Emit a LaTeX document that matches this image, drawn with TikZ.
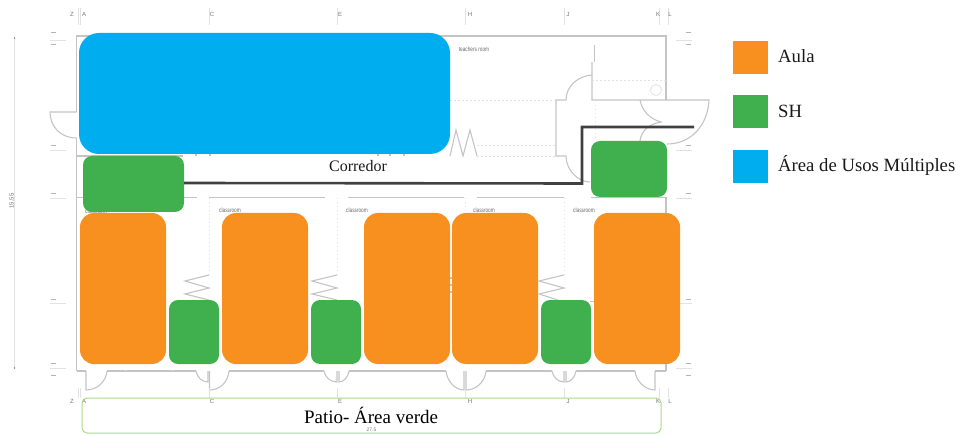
\documentclass[tikz,border=0pt]{standalone}
\usepackage{fontspec}
\setmainfont{Liberation Serif}
\newfontfamily\planfont{Liberation Sans}
\definecolor{aulac}{HTML}{F7901E}
\definecolor{shc}{HTML}{40AF4D}
\definecolor{sumc}{HTML}{00AEEF}
\definecolor{wallc}{HTML}{C4C4C4}
\definecolor{thinc}{HTML}{E2E2E2}
\definecolor{patioc}{HTML}{A9D88A}
\definecolor{pathc}{HTML}{404040}
\tikzset{
  wall/.style={draw=wallc,line width=1.1pt},
  thick wall/.style={draw=wallc,line width=1.4pt},
  dotline/.style={draw=thinc,line width=0.7pt,dash pattern=on 1.5pt off 2.5pt},
  axisline/.style={draw=thinc,line width=0.6pt},
  block/.style={inner sep=0pt,outer sep=0pt,draw=none,rounded corners=#1},
  aula/.style={block=14pt,fill=aulac,minimum width=86pt,minimum height=151pt},
  sh/.style={block=9pt,fill=shc},
  sum/.style={block=20pt,fill=sumc},
  swatch/.style={inner sep=0pt,outer sep=0pt,minimum width=35pt,minimum height=33pt},
  legendtext/.style={font=\fontsize{18.7}{20}\selectfont,anchor=west,inner sep=0pt,text=black!90},
  plantext/.style={font=\planfont\fontsize{6}{6.5}\selectfont,text=black!55,inner sep=0pt},
  roomtext/.style={font=\planfont\fontsize{6.3}{7}\selectfont,text=black!60,inner sep=0pt,xscale=0.75},
  corridor/.style={draw=pathc,line width=2.6pt,line join=miter}
}
\begin{document}
\begin{tikzpicture}[x=1pt,y=-1pt]
\useasboundingbox (0,0) rectangle (957,435);
% --- floor plan background
\draw[thick wall] (76.5,112) -- (76.5,36) -- (666,36) -- (666,100);
\draw[thick wall] (76.5,138) -- (76.5,371);
\draw[wall] (76.5,112) -- (50,112) .. controls (50,126) and (60,138) .. (76.5,138);
\draw[wall] (76.5,156) -- (183,156);
\draw[wall] (76.5,197.5) -- (197,197.5) (209,197.5) -- (325,197.5) (348,197.5) -- (464,197.5) (477,197.5) -- (564,197.5) (591,197.5) -- (666,197.5);
% bottom wall and doors
\draw[thick wall] (666,197) -- (666,371);
\draw[thick wall] (76.5,371) -- (86,371) (107,371) -- (196,371) (229,371) -- (324,371) (349,371) -- (446,371) (486,371) -- (552,371) (576,371) -- (635,371) (655,371) -- (666,371);
\draw[wall] (86,371) -- (86,390) .. controls (97,390) and (106,382) .. (107,371);
\draw[wall] (196,371) .. controls (197,377) and (202,382) .. (208,382) -- (208,371);
\draw[wall] (209.5,371) -- (209.5,390) .. controls (220,390) and (228,382) .. (229,371);
\draw[wall] (324,371) .. controls (325,377) and (330,382) .. (337,382) -- (337,371);
\draw[wall] (339,371) -- (339,382) .. controls (344,382) and (348,377) .. (349,371);
\draw[wall] (446,371) .. controls (447,381) and (455,390) .. (464,390) -- (464,371);
\draw[wall] (466,371) -- (466,390) .. controls (476,390) and (485,382) .. (486,371);
\draw[wall] (552,371) .. controls (553,377) and (558,382) .. (564,382) -- (564,371);
\draw[wall] (566,371) -- (566,382) .. controls (571,382) and (575,377) .. (576,371);
\draw[wall] (635,371) .. controls (636,381) and (645,390) .. (655,390) -- (655,371);
% zigzags
\draw[wall] (209,275) -- (185,281) -- (209,288) -- (185,294) -- (209,300);
\draw[wall] (337,275) -- (312,281) -- (337,288) -- (312,294) -- (337,300);
\draw[wall] (564,275) -- (539,281) -- (564,288) -- (539,294) -- (558,300);
\draw[wall] (450,278) -- (452,278) (450,285) -- (452,285) (450,292) -- (452,292);
\draw[wall] (450,156) -- (456,130) -- (463,156) -- (470,130) -- (477,156);
\draw[wall] (590,301.5) -- (594,301.5);
\draw[wall] (196,150) -- (196,156) (210,150) -- (210,156) (378,150) -- (378,156) (390,150) -- (390,156) (404,150) -- (404,156);
% upper right rooms and doors
\draw[wall] (594.5,45) -- (594.5,62);
\draw[wall] (592,62) -- (592,100) -- (709,100) .. controls (708,124) and (692,144) .. (667,144);
\draw[wall] (592,75) .. controls (578,76) and (566,86) .. (566,100) -- (556,100) -- (556,156) -- (566,156) .. controls (566,170) and (578,182) .. (590,182);
\draw[wall] (640,100) .. controls (642,111) and (650,119) .. (661,122) .. controls (649,124) and (641,131) .. (640,141);
\draw[dotline] (450,100) -- (556,100) (477,156) -- (556,156) (477,145) -- (556,145) (595,105) -- (595,141) (592,80) -- (666,80);
\draw[draw=thinc,line width=0.8pt] (656,90) circle (5.5);
% grid lines inside the classrooms
\draw[dotline] (209,198) -- (209,275) (337,198) -- (337,275) (465,198) -- (465,275) (564,198) -- (564,275) (125,371) -- (125,368) (172,371) -- (172,368);
% axes
\draw[axisline] (78,8) -- (78,25) (80,8) -- (80,25) (209,8) -- (209,25) (337,8) -- (337,25) (465,8) -- (465,25) (564,8) -- (564,25) (659,8) -- (659,25) (668,8) -- (668,25);
\draw[axisline] (78,388) -- (78,398) (80,388) -- (80,398) (209,388) -- (209,398) (337,388) -- (337,398) (465,388) -- (465,398) (564,388) -- (564,398) (659,388) -- (659,398) (668,388) -- (668,398);
\draw[axisline] (14.5,38) -- (14.5,368);
\draw[axisline] (50,40) -- (66,40) (50,150) -- (66,150) (50,198) -- (66,198) (50,303) -- (66,303) (50,368) -- (66,368) (676,40) -- (692,40) (676,150) -- (692,150) (676,198) -- (692,198) (676,303) -- (692,303) (676,368) -- (692,368);
\fill[black!50] (14.5,38) circle (0.9) (14.5,368) circle (0.9);
\foreach \yy in {33,45,146,194,299,363,375} {
  \draw[black!30,line width=1pt] (51,\yy) -- (56,\yy);
  \draw[black!30,line width=1pt] (686,\yy) -- (691,\yy);
}
\node[plantext,rotate=90] (dim) at (12,201) {15,55};
\foreach \nm/\xx in {Z/72,A/84,C/212,E/340,H/470,J/568,K/658,L/670} {
  \node[plantext] (top\nm) at (\xx,14) {\nm};
  \node[plantext] (bot\nm) at (\xx,401.5) {\nm};
}
\node[roomtext] (room0) at (96,211) {classroom};
\node[roomtext] (room1) at (230,210) {classroom};
\node[roomtext] (room2) at (357,210) {classroom};
\node[roomtext] (room3) at (484,210) {classroom};
\node[roomtext] (room4) at (584,210) {classroom};
\node[roomtext] (teachers) at (474,49) {teachers room};
% --- patio
\node[draw=patioc,line width=1pt,rounded corners=5pt,minimum width=579pt,minimum height=35pt,inner sep=0pt] (patio) at (371.5,415.5) {};
\node[font=\planfont\fontsize{5}{5}\selectfont,text=black!55,inner sep=0pt] (width) at (371.5,429.5) {27.5};
\node[font=\fontsize{19}{19}\selectfont,inner sep=0pt] (patiolabel) at (371,415) {Patio- Área verde};
% --- coloured blocks
\node[sum,minimum width=371pt,minimum height=121pt] (usos) at (264.5,93.5) {};
\node[sh,minimum width=101pt,minimum height=56pt] (shA) at (133.5,184) {};
\node[sh,minimum width=76pt,minimum height=56pt] (shB) at (629,169) {};
\node[aula] (a1) at (123,288.5) {};
\node[aula] (a2) at (265,288.5) {};
\node[aula] (a3) at (407,288.5) {};
\node[aula] (a4) at (495,288.5) {};
\node[aula] (a5) at (637,288.5) {};
\node[sh,minimum width=50pt,minimum height=64pt] (s1) at (194,332) {};
\node[sh,minimum width=50pt,minimum height=64pt] (s2) at (336,332) {};
\node[sh,minimum width=50pt,minimum height=64pt] (s3) at (566,332) {};
% --- corridor
\coordinate (bendA) at (582,183.5);
\coordinate (bendB) at (582,127);
\coordinate (pathend) at (694,127);
\draw[corridor] ([yshift=1pt]shA.east) -- (bendA) -- (bendB) -- (pathend);
\node[font=\fontsize{16}{18}\selectfont,inner sep=0pt,text=black!90] (corr) at (358,166) {Corredor};
% --- legend
\node[swatch,fill=aulac] (kA) at (750.5,57.5) {};
\node[swatch,fill=shc] (kS) at (750.5,111.5) {};
\node[swatch,fill=sumc] (kU) at (750.5,166.5) {};
\node[legendtext] (lA) at (778,56) {Aula};
\node[legendtext] (lS) at (778,111) {SH};
\node[legendtext] (lU) at (778,165) {Área de Usos Múltiples};
\end{tikzpicture}
\end{document}
